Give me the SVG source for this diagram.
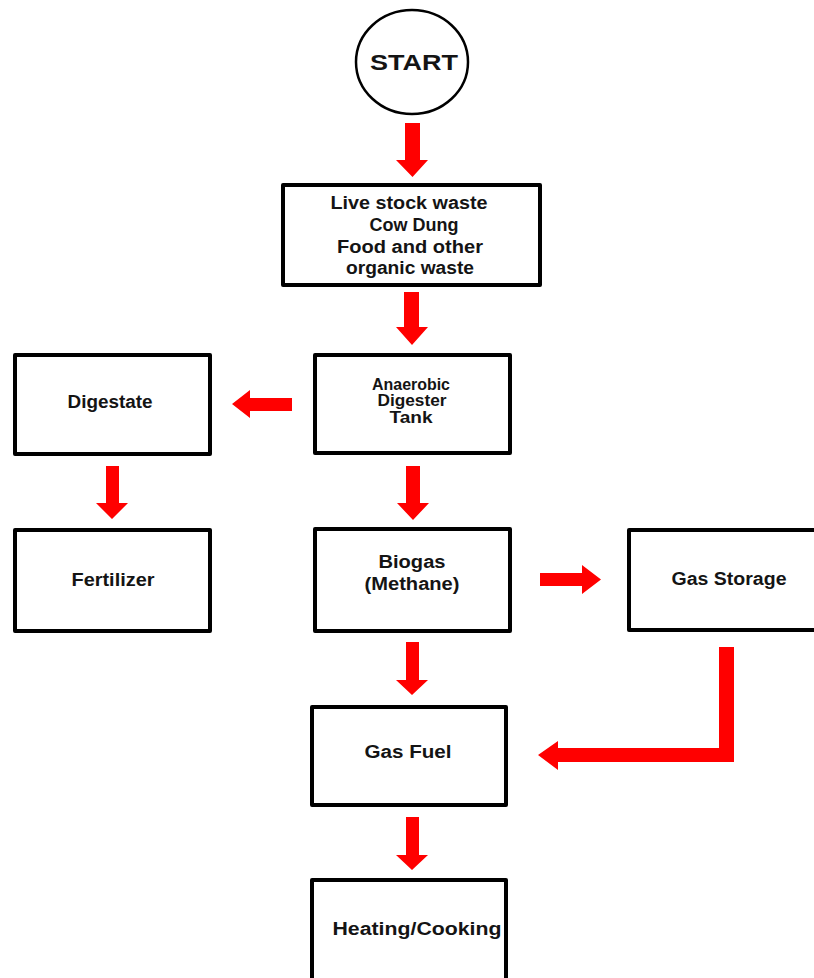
<svg xmlns="http://www.w3.org/2000/svg" width="814" height="978" viewBox="0 0 814 978">
<style>
.box{fill:#fff;stroke:#000;stroke-width:4;stroke-linejoin:round}
.t{font-family:"Liberation Sans",Arial,sans-serif;font-weight:bold;fill:#141414;text-anchor:middle}
.arr{fill:#ff0000;stroke:none}
</style>
<rect width="814" height="978" fill="#fff"/>
<g id="start">
<ellipse cx="412" cy="62" rx="56" ry="52" fill="#fff" stroke="#000" stroke-width="2.5"/>
<text class="t" x="414" y="70" font-size="22" textLength="88" lengthAdjust="spacingAndGlyphs">START</text>
</g>
<g id="waste">
<rect class="box" x="283" y="185" width="257" height="100"/>
<text class="t" x="409" y="209" font-size="17.5" textLength="157" lengthAdjust="spacingAndGlyphs">Live stock waste</text>
<text class="t" x="414" y="231" font-size="17.5" textLength="89" lengthAdjust="spacingAndGlyphs">Cow Dung</text>
<text class="t" x="410" y="253" font-size="17.5" textLength="146" lengthAdjust="spacingAndGlyphs">Food and other</text>
<text class="t" x="410" y="274" font-size="17.5" textLength="128" lengthAdjust="spacingAndGlyphs">organic waste</text>
</g>
<g id="digester">
<rect class="box" x="315" y="355" width="195" height="98"/>
<text class="t" x="411" y="390" font-size="16" textLength="78" lengthAdjust="spacingAndGlyphs">Anaerobic</text>
<text class="t" x="412" y="406" font-size="16" textLength="69" lengthAdjust="spacingAndGlyphs">Digester</text>
<text class="t" x="411" y="423" font-size="16" textLength="43" lengthAdjust="spacingAndGlyphs">Tank</text>
</g>
<g id="digestate">
<rect class="box" x="15" y="355" width="195" height="99"/>
<text class="t" x="110" y="408" font-size="18" textLength="85" lengthAdjust="spacingAndGlyphs">Digestate</text>
</g>
<g id="fertilizer">
<rect class="box" x="15" y="530" width="195" height="101"/>
<text class="t" x="113" y="586" font-size="18" textLength="83" lengthAdjust="spacingAndGlyphs">Fertilizer</text>
</g>
<g id="biogas">
<rect class="box" x="315" y="529" width="195" height="102"/>
<text class="t" x="412" y="568" font-size="18" textLength="67" lengthAdjust="spacingAndGlyphs">Biogas</text>
<text class="t" x="412" y="590" font-size="18" textLength="95" lengthAdjust="spacingAndGlyphs">(Methane)</text>
</g>
<g id="storage">
<rect class="box" x="629" y="530" width="200" height="100"/>
<text class="t" x="729" y="585" font-size="18" textLength="115" lengthAdjust="spacingAndGlyphs">Gas Storage</text>
</g>
<g id="fuel">
<rect class="box" x="312" y="707" width="194" height="98"/>
<text class="t" x="408" y="758" font-size="18" textLength="87" lengthAdjust="spacingAndGlyphs">Gas Fuel</text>
</g>
<g id="heating">
<rect class="box" x="312" y="880" width="194" height="120"/>
<text class="t" x="417" y="935" font-size="18" textLength="169" lengthAdjust="spacingAndGlyphs">Heating/Cooking</text>
</g>
<g id="connectors">
<polygon class="arr" points="405,123 420,123 420,160 428,160 412.5,177 396,160 405,160"/>
<polygon class="arr" points="404,292 419,292 419,327 428,327 412,345 396,327 404,327"/>
<polygon class="arr" points="406,466 420,466 420,503 429,503 413,520 397,503 406,503"/>
<polygon class="arr" points="106,466 119,466 119,503 128,503 112,519 96,503 106,503"/>
<polygon class="arr" points="406,642 419,642 419,680 428,680 412,695 396,680 406,680"/>
<polygon class="arr" points="406,817 419,817 419,855 428,855 412,870 396,855 406,855"/>
<polygon class="arr" points="292,398 292,411 250,411 250,418 232,404 250,390 250,398"/>
<polygon class="arr" points="540,573 582,573 582,565 601,579.5 582,594 582,586 540,586"/>
<polygon class="arr" points="719,647 734,647 734,762 558,762 558,770 538,755 558,741 558,748 719,748"/>
</g>
</svg>
